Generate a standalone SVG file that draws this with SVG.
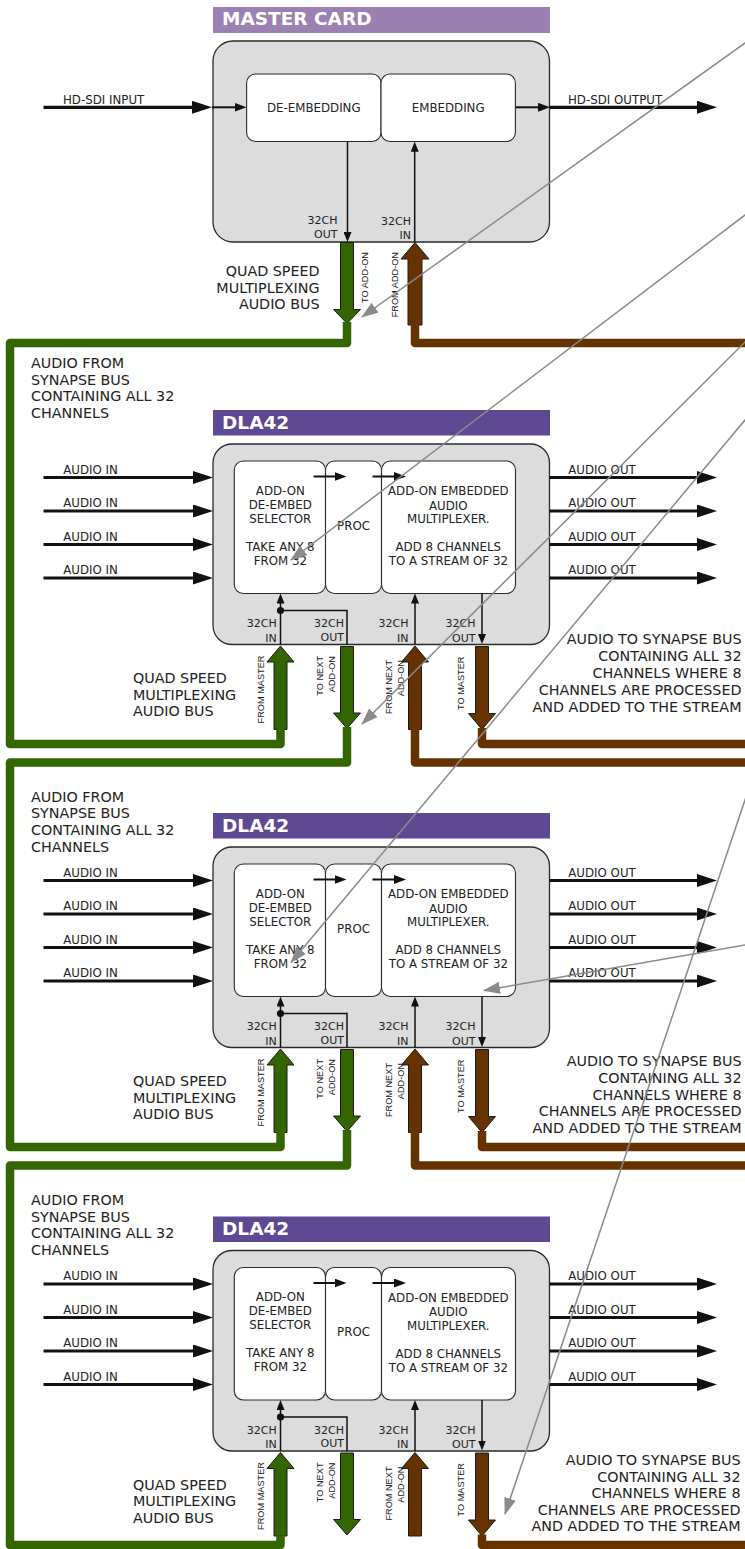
<svg xmlns="http://www.w3.org/2000/svg" width="745" height="1549" viewBox="0 0 745 1549">
<defs>
<style>
.t{font-family:"DejaVu Sans",Verdana,sans-serif;fill:#222222}
.lbl{font-size:11.8px}
.big{font-size:14.3px}
.sm{font-size:11px}
.rot{font-family:"Liberation Sans",Arial,sans-serif;font-size:9.2px;fill:#222222}
.ttl{font-family:"DejaVu Sans",Verdana,sans-serif;font-weight:bold;font-size:18.5px;fill:#ffffff}
.card{fill:#dcdcdc;stroke:#2a2a2a;stroke-width:1.3}
.box{fill:#ffffff;stroke:#2a2a2a;stroke-width:1.1}
.sig{stroke:#111;stroke-width:3.2;fill:none}
.sig2{stroke:#111;stroke-width:2;fill:none}
.thin{stroke:#111;stroke-width:1.5;fill:none}
.gbus{fill:#336600;stroke:#1a1a1a;stroke-width:1}
.bbus{fill:#663300;stroke:#1a1a1a;stroke-width:1}
.gl{stroke:#336600;stroke-width:8.5;fill:none;stroke-linejoin:round}
.bl{stroke:#663300;stroke-width:8.5;fill:none;stroke-linejoin:round}
.note{stroke:#8a8a8a;stroke-width:1.5;fill:none}
.mid{text-anchor:middle}
.end{text-anchor:end}
</style>
<marker id="ahb" markerUnits="userSpaceOnUse" markerWidth="20" markerHeight="13" viewBox="0 0 20 13" refX="12" refY="6.5" orient="auto"><path d="M0,0 L20,6.5 L0,13 z" fill="#111"/></marker>
<marker id="ahm" markerUnits="userSpaceOnUse" markerWidth="12" markerHeight="9" viewBox="0 0 12 9" refX="6" refY="4.5" orient="auto"><path d="M0,0 L12,4.5 L0,9 z" fill="#111"/></marker>
<marker id="ahs" markerUnits="userSpaceOnUse" markerWidth="10" markerHeight="8" viewBox="0 0 10 8" refX="5" refY="4" orient="auto"><path d="M0,0 L10,4 L0,8 z" fill="#111"/></marker>
<marker id="ahg" markerUnits="userSpaceOnUse" markerWidth="17" markerHeight="12" viewBox="0 0 17 12" refX="16" refY="6" orient="auto"><path d="M0,0 L17,6 L0,12 z" fill="#8a8a8a"/></marker>
</defs>

<rect x="0" y="0" width="745" height="1549" fill="#ffffff"/>

<!-- MASTER CARD -->
<g id="master-card">
<rect x="213" y="7" width="337" height="26" fill="#9b80b1"/>
<text class="ttl" x="222" y="25">MASTER CARD</text>
<rect class="card" x="213" y="41" width="336.5" height="201" rx="20"/>
<rect class="box" x="246.6" y="74" width="134.4" height="67.5" rx="9"/>
<rect class="box" x="381" y="74" width="134.4" height="67.5" rx="9"/>
<text class="t lbl mid" x="313.8" y="111.5">DE-EMBEDDING</text>
<text class="t lbl mid" x="448.2" y="111.5">EMBEDDING</text>
<line class="sig" x1="43.5" y1="107.3" x2="204" y2="107.3" marker-end="url(#ahb)"/>
<line class="sig2" x1="212" y1="107.3" x2="240.5" y2="107.3" marker-end="url(#ahm)"/>
<line class="sig2" x1="515.4" y1="107.3" x2="544" y2="107.3" marker-end="url(#ahm)"/>
<line class="sig" x1="550" y1="107.3" x2="709" y2="107.3" marker-end="url(#ahb)"/>
<text class="t lbl" x="63" y="104">HD-SDI INPUT</text>
<text class="t lbl" x="568" y="104">HD-SDI OUTPUT</text>
<line class="thin" x1="347.5" y1="141.5" x2="347.5" y2="237" marker-end="url(#ahs)"/>
<line class="thin" x1="414.7" y1="242" x2="414.7" y2="146.7" marker-end="url(#ahs)"/>
<text class="t sm end" x="337.5" y="224">32CH</text>
<text class="t sm end" x="337.5" y="237.5">OUT</text>
<text class="t sm end" x="411" y="225">32CH</text>
<text class="t sm end" x="411" y="239">IN</text>
<polygon class="gbus" points="340.5,242.5 353.5,242.5 353.5,309.5 360.5,309.5 347,323.5 333.5,309.5 340.5,309.5"/>
<polygon class="bbus" points="415,242.5 429,259 422,259 422,325 408,325 408,259 401,259"/>
<text class="rot end" transform="translate(368,252) rotate(-90)">TO ADD-ON</text>
<text class="rot end" transform="translate(398.3,252) rotate(-90)">FROM ADD-ON</text>
<text class="t big end" x="319.5" y="276">QUAD SPEED</text>
<text class="t big end" x="319.5" y="292.7">MULTIPLEXING</text>
<text class="t big end" x="319.5" y="309.3">AUDIO BUS</text>
</g>

<!-- DLA42 #1 -->
<g id="dla42-1">
<rect x="213" y="410" width="337" height="25.5" fill="#5e4891"/>
<text class="ttl" x="222" y="428.5">DLA42</text>
<rect class="card" x="213" y="444" width="336.5" height="200.5" rx="19"/>
<rect class="box" x="234.3" y="461" width="91.2" height="132.5" rx="9"/>
<rect class="box" x="325.5" y="461" width="56" height="132.5" rx="9"/>
<rect class="box" x="381.5" y="461" width="134" height="132.5" rx="9"/>
<text class="t lbl mid" x="280.3" y="494.5">ADD-ON</text>
<text class="t lbl mid" x="280.3" y="508.7">DE-EMBED</text>
<text class="t lbl mid" x="280.3" y="522.7">SELECTOR</text>
<text class="t lbl mid" x="280.3" y="550.5">TAKE ANY 8</text>
<text class="t lbl mid" x="280.3" y="564.7">FROM 32</text>
<text class="t lbl mid" x="353.5" y="529.5">PROC</text>
<text class="t lbl mid" x="448.3" y="495.3">ADD-ON EMBEDDED</text>
<text class="t lbl mid" x="448.3" y="509.5">AUDIO</text>
<text class="t lbl mid" x="448.3" y="523">MULTIPLEXER.</text>
<text class="t lbl mid" x="448.3" y="551">ADD 8 CHANNELS</text>
<text class="t lbl mid" x="448.3" y="565.3">TO A STREAM OF 32</text>
<line class="sig2" x1="313.5" y1="476.5" x2="340.5" y2="476.5" marker-end="url(#ahm)"/>
<line class="sig2" x1="372.5" y1="476.5" x2="400" y2="476.5" marker-end="url(#ahm)"/>
<line class="sig" x1="43.5" y1="477.5" x2="205" y2="477.5" marker-end="url(#ahb)"/>
<line class="sig" x1="43.5" y1="511" x2="205" y2="511" marker-end="url(#ahb)"/>
<line class="sig" x1="43.5" y1="544.5" x2="205" y2="544.5" marker-end="url(#ahb)"/>
<line class="sig" x1="43.5" y1="578" x2="205" y2="578" marker-end="url(#ahb)"/>
<line class="sig" x1="549.5" y1="477.5" x2="709" y2="477.5" marker-end="url(#ahb)"/>
<line class="sig" x1="549.5" y1="511" x2="709" y2="511" marker-end="url(#ahb)"/>
<line class="sig" x1="549.5" y1="544.5" x2="709" y2="544.5" marker-end="url(#ahb)"/>
<line class="sig" x1="549.5" y1="578" x2="709" y2="578" marker-end="url(#ahb)"/>
<text class="t lbl" x="63.3" y="473.5">AUDIO IN</text>
<text class="t lbl" x="63.3" y="507">AUDIO IN</text>
<text class="t lbl" x="63.3" y="540.5">AUDIO IN</text>
<text class="t lbl" x="63.3" y="574">AUDIO IN</text>
<text class="t lbl" x="568.3" y="473.5">AUDIO OUT</text>
<text class="t lbl" x="568.3" y="507">AUDIO OUT</text>
<text class="t lbl" x="568.3" y="540.5">AUDIO OUT</text>
<text class="t lbl" x="568.3" y="574">AUDIO OUT</text>
<line class="thin" x1="280.5" y1="644.5" x2="280.5" y2="598.5" marker-end="url(#ahs)"/>
<path class="thin" d="M280.5,610.5 H347 V644.5"/>
<circle cx="280.5" cy="610.5" r="3.6" fill="#111"/>
<line class="thin" x1="415" y1="644.5" x2="415" y2="598.5" marker-end="url(#ahs)"/>
<line class="thin" x1="482" y1="593.5" x2="482" y2="639" marker-end="url(#ahs)"/>
<text class="t sm end" x="276.7" y="627">32CH</text>
<text class="t sm end" x="276.7" y="641.5">IN</text>
<text class="t sm end" x="344" y="627">32CH</text>
<text class="t sm end" x="344" y="640.5">OUT</text>
<text class="t sm end" x="408.5" y="627">32CH</text>
<text class="t sm end" x="408.5" y="641.5">IN</text>
<text class="t sm end" x="475.5" y="627.3">32CH</text>
<text class="t sm end" x="475.5" y="641.5">OUT</text>
<polygon class="gbus" points="280.5,646 294,662 287,662 287,729.5 274,729.5 274,662 267,662"/>
<polygon class="gbus" points="340.5,646.5 353.5,646.5 353.5,713 360.5,713 347,728.5 333.5,713 340.5,713"/>
<polygon class="bbus" points="415,646 428.5,662 421.5,662 421.5,729.5 408.5,729.5 408.5,662 401.5,662"/>
<polygon class="bbus" points="475.5,646.5 488.5,646.5 488.5,713.5 495.5,713.5 482,729.5 468.5,713.5 475.5,713.5"/>
<text class="rot end" transform="translate(263.5,655.5) rotate(-90)">FROM MASTER</text>
<text class="rot end" transform="translate(322.5,656) rotate(-90)">TO NEXT</text>
<text class="rot end" transform="translate(334.5,656) rotate(-90)">ADD-ON</text>
<text class="rot end" transform="translate(391.5,660) rotate(-90)">FROM NEXT</text>
<text class="rot end" transform="translate(403.5,660) rotate(-90)">ADD-ON</text>
<text class="rot end" transform="translate(463.5,656.5) rotate(-90)">TO MASTER</text>
<text class="t big" x="133" y="683">QUAD SPEED</text>
<text class="t big" x="133" y="699.7">MULTIPLEXING</text>
<text class="t big" x="133" y="716.3">AUDIO BUS</text>
</g>

<!-- DLA42 #2 -->
<g id="dla42-2" transform="translate(0,403)">
<rect x="213" y="410" width="337" height="25.5" fill="#5e4891"/>
<text class="ttl" x="222" y="428.5">DLA42</text>
<rect class="card" x="213" y="444" width="336.5" height="200.5" rx="19"/>
<rect class="box" x="234.3" y="461" width="91.2" height="132.5" rx="9"/>
<rect class="box" x="325.5" y="461" width="56" height="132.5" rx="9"/>
<rect class="box" x="381.5" y="461" width="134" height="132.5" rx="9"/>
<text class="t lbl mid" x="280.3" y="494.5">ADD-ON</text>
<text class="t lbl mid" x="280.3" y="508.7">DE-EMBED</text>
<text class="t lbl mid" x="280.3" y="522.7">SELECTOR</text>
<text class="t lbl mid" x="280.3" y="550.5">TAKE ANY 8</text>
<text class="t lbl mid" x="280.3" y="564.7">FROM 32</text>
<text class="t lbl mid" x="353.5" y="529.5">PROC</text>
<text class="t lbl mid" x="448.3" y="495.3">ADD-ON EMBEDDED</text>
<text class="t lbl mid" x="448.3" y="509.5">AUDIO</text>
<text class="t lbl mid" x="448.3" y="523">MULTIPLEXER.</text>
<text class="t lbl mid" x="448.3" y="551">ADD 8 CHANNELS</text>
<text class="t lbl mid" x="448.3" y="565.3">TO A STREAM OF 32</text>
<line class="sig2" x1="313.5" y1="476.5" x2="340.5" y2="476.5" marker-end="url(#ahm)"/>
<line class="sig2" x1="372.5" y1="476.5" x2="400" y2="476.5" marker-end="url(#ahm)"/>
<line class="sig" x1="43.5" y1="477.5" x2="205" y2="477.5" marker-end="url(#ahb)"/>
<line class="sig" x1="43.5" y1="511" x2="205" y2="511" marker-end="url(#ahb)"/>
<line class="sig" x1="43.5" y1="544.5" x2="205" y2="544.5" marker-end="url(#ahb)"/>
<line class="sig" x1="43.5" y1="578" x2="205" y2="578" marker-end="url(#ahb)"/>
<line class="sig" x1="549.5" y1="477.5" x2="709" y2="477.5" marker-end="url(#ahb)"/>
<line class="sig" x1="549.5" y1="511" x2="709" y2="511" marker-end="url(#ahb)"/>
<line class="sig" x1="549.5" y1="544.5" x2="709" y2="544.5" marker-end="url(#ahb)"/>
<line class="sig" x1="549.5" y1="578" x2="709" y2="578" marker-end="url(#ahb)"/>
<text class="t lbl" x="63.3" y="473.5">AUDIO IN</text>
<text class="t lbl" x="63.3" y="507">AUDIO IN</text>
<text class="t lbl" x="63.3" y="540.5">AUDIO IN</text>
<text class="t lbl" x="63.3" y="574">AUDIO IN</text>
<text class="t lbl" x="568.3" y="473.5">AUDIO OUT</text>
<text class="t lbl" x="568.3" y="507">AUDIO OUT</text>
<text class="t lbl" x="568.3" y="540.5">AUDIO OUT</text>
<text class="t lbl" x="568.3" y="574">AUDIO OUT</text>
<line class="thin" x1="280.5" y1="644.5" x2="280.5" y2="598.5" marker-end="url(#ahs)"/>
<path class="thin" d="M280.5,610.5 H347 V644.5"/>
<circle cx="280.5" cy="610.5" r="3.6" fill="#111"/>
<line class="thin" x1="415" y1="644.5" x2="415" y2="598.5" marker-end="url(#ahs)"/>
<line class="thin" x1="482" y1="593.5" x2="482" y2="639" marker-end="url(#ahs)"/>
<text class="t sm end" x="276.7" y="627">32CH</text>
<text class="t sm end" x="276.7" y="641.5">IN</text>
<text class="t sm end" x="344" y="627">32CH</text>
<text class="t sm end" x="344" y="640.5">OUT</text>
<text class="t sm end" x="408.5" y="627">32CH</text>
<text class="t sm end" x="408.5" y="641.5">IN</text>
<text class="t sm end" x="475.5" y="627.3">32CH</text>
<text class="t sm end" x="475.5" y="641.5">OUT</text>
<polygon class="gbus" points="280.5,646 294,662 287,662 287,729.5 274,729.5 274,662 267,662"/>
<polygon class="gbus" points="340.5,646.5 353.5,646.5 353.5,713 360.5,713 347,728.5 333.5,713 340.5,713"/>
<polygon class="bbus" points="415,646 428.5,662 421.5,662 421.5,729.5 408.5,729.5 408.5,662 401.5,662"/>
<polygon class="bbus" points="475.5,646.5 488.5,646.5 488.5,713.5 495.5,713.5 482,729.5 468.5,713.5 475.5,713.5"/>
<text class="rot end" transform="translate(263.5,655.5) rotate(-90)">FROM MASTER</text>
<text class="rot end" transform="translate(322.5,656) rotate(-90)">TO NEXT</text>
<text class="rot end" transform="translate(334.5,656) rotate(-90)">ADD-ON</text>
<text class="rot end" transform="translate(391.5,660) rotate(-90)">FROM NEXT</text>
<text class="rot end" transform="translate(403.5,660) rotate(-90)">ADD-ON</text>
<text class="rot end" transform="translate(463.5,656.5) rotate(-90)">TO MASTER</text>
<text class="t big" x="133" y="683">QUAD SPEED</text>
<text class="t big" x="133" y="699.7">MULTIPLEXING</text>
<text class="t big" x="133" y="716.3">AUDIO BUS</text>
</g>

<!-- DLA42 #3 -->
<g id="dla42-3" transform="translate(0,806.5)">
<rect x="213" y="410" width="337" height="25.5" fill="#5e4891"/>
<text class="ttl" x="222" y="428.5">DLA42</text>
<rect class="card" x="213" y="444" width="336.5" height="200.5" rx="19"/>
<rect class="box" x="234.3" y="461" width="91.2" height="132.5" rx="9"/>
<rect class="box" x="325.5" y="461" width="56" height="132.5" rx="9"/>
<rect class="box" x="381.5" y="461" width="134" height="132.5" rx="9"/>
<text class="t lbl mid" x="280.3" y="494.5">ADD-ON</text>
<text class="t lbl mid" x="280.3" y="508.7">DE-EMBED</text>
<text class="t lbl mid" x="280.3" y="522.7">SELECTOR</text>
<text class="t lbl mid" x="280.3" y="550.5">TAKE ANY 8</text>
<text class="t lbl mid" x="280.3" y="564.7">FROM 32</text>
<text class="t lbl mid" x="353.5" y="529.5">PROC</text>
<text class="t lbl mid" x="448.3" y="495.3">ADD-ON EMBEDDED</text>
<text class="t lbl mid" x="448.3" y="509.5">AUDIO</text>
<text class="t lbl mid" x="448.3" y="523">MULTIPLEXER.</text>
<text class="t lbl mid" x="448.3" y="551">ADD 8 CHANNELS</text>
<text class="t lbl mid" x="448.3" y="565.3">TO A STREAM OF 32</text>
<line class="sig2" x1="313.5" y1="476.5" x2="340.5" y2="476.5" marker-end="url(#ahm)"/>
<line class="sig2" x1="372.5" y1="476.5" x2="400" y2="476.5" marker-end="url(#ahm)"/>
<line class="sig" x1="43.5" y1="477.5" x2="205" y2="477.5" marker-end="url(#ahb)"/>
<line class="sig" x1="43.5" y1="511" x2="205" y2="511" marker-end="url(#ahb)"/>
<line class="sig" x1="43.5" y1="544.5" x2="205" y2="544.5" marker-end="url(#ahb)"/>
<line class="sig" x1="43.5" y1="578" x2="205" y2="578" marker-end="url(#ahb)"/>
<line class="sig" x1="549.5" y1="477.5" x2="709" y2="477.5" marker-end="url(#ahb)"/>
<line class="sig" x1="549.5" y1="511" x2="709" y2="511" marker-end="url(#ahb)"/>
<line class="sig" x1="549.5" y1="544.5" x2="709" y2="544.5" marker-end="url(#ahb)"/>
<line class="sig" x1="549.5" y1="578" x2="709" y2="578" marker-end="url(#ahb)"/>
<text class="t lbl" x="63.3" y="473.5">AUDIO IN</text>
<text class="t lbl" x="63.3" y="507">AUDIO IN</text>
<text class="t lbl" x="63.3" y="540.5">AUDIO IN</text>
<text class="t lbl" x="63.3" y="574">AUDIO IN</text>
<text class="t lbl" x="568.3" y="473.5">AUDIO OUT</text>
<text class="t lbl" x="568.3" y="507">AUDIO OUT</text>
<text class="t lbl" x="568.3" y="540.5">AUDIO OUT</text>
<text class="t lbl" x="568.3" y="574">AUDIO OUT</text>
<line class="thin" x1="280.5" y1="644.5" x2="280.5" y2="598.5" marker-end="url(#ahs)"/>
<path class="thin" d="M280.5,610.5 H347 V644.5"/>
<circle cx="280.5" cy="610.5" r="3.6" fill="#111"/>
<line class="thin" x1="415" y1="644.5" x2="415" y2="598.5" marker-end="url(#ahs)"/>
<line class="thin" x1="482" y1="593.5" x2="482" y2="639" marker-end="url(#ahs)"/>
<text class="t sm end" x="276.7" y="627">32CH</text>
<text class="t sm end" x="276.7" y="641.5">IN</text>
<text class="t sm end" x="344" y="627">32CH</text>
<text class="t sm end" x="344" y="640.5">OUT</text>
<text class="t sm end" x="408.5" y="627">32CH</text>
<text class="t sm end" x="408.5" y="641.5">IN</text>
<text class="t sm end" x="475.5" y="627.3">32CH</text>
<text class="t sm end" x="475.5" y="641.5">OUT</text>
<polygon class="gbus" points="280.5,646 294,662 287,662 287,729.5 274,729.5 274,662 267,662"/>
<polygon class="gbus" points="340.5,646.5 353.5,646.5 353.5,713 360.5,713 347,728.5 333.5,713 340.5,713"/>
<polygon class="bbus" points="415,646 428.5,662 421.5,662 421.5,729.5 408.5,729.5 408.5,662 401.5,662"/>
<polygon class="bbus" points="475.5,646.5 488.5,646.5 488.5,713.5 495.5,713.5 482,729.5 468.5,713.5 475.5,713.5"/>
<text class="rot end" transform="translate(263.5,655.5) rotate(-90)">FROM MASTER</text>
<text class="rot end" transform="translate(322.5,656) rotate(-90)">TO NEXT</text>
<text class="rot end" transform="translate(334.5,656) rotate(-90)">ADD-ON</text>
<text class="rot end" transform="translate(391.5,660) rotate(-90)">FROM NEXT</text>
<text class="rot end" transform="translate(403.5,660) rotate(-90)">ADD-ON</text>
<text class="rot end" transform="translate(463.5,656.5) rotate(-90)">TO MASTER</text>
<text class="t big" x="133" y="683">QUAD SPEED</text>
<text class="t big" x="133" y="699.7">MULTIPLEXING</text>
<text class="t big" x="133" y="716.3">AUDIO BUS</text>
</g>

<!-- bus annotations -->
<g id="bus-notes">
<text class="t big" x="31" y="368">AUDIO FROM</text>
<text class="t big" x="31" y="384.7">SYNAPSE BUS</text>
<text class="t big" x="31" y="401.4">CONTAINING ALL 32</text>
<text class="t big" x="31" y="418.1">CHANNELS</text>
<text class="t big" x="31" y="801.8">AUDIO FROM</text>
<text class="t big" x="31" y="818.4">SYNAPSE BUS</text>
<text class="t big" x="31" y="835">CONTAINING ALL 32</text>
<text class="t big" x="31" y="851.6">CHANNELS</text>
<text class="t big" x="31" y="1205">AUDIO FROM</text>
<text class="t big" x="31" y="1221.6">SYNAPSE BUS</text>
<text class="t big" x="31" y="1238.2">CONTAINING ALL 32</text>
<text class="t big" x="31" y="1254.8">CHANNELS</text>
<text class="t big end" x="741.5" y="644">AUDIO TO SYNAPSE BUS</text>
<text class="t big end" x="741.5" y="660.9">CONTAINING ALL 32</text>
<text class="t big end" x="741.5" y="677.8">CHANNELS WHERE 8</text>
<text class="t big end" x="741.5" y="694.7">CHANNELS ARE PROCESSED</text>
<text class="t big end" x="741.5" y="711.6">AND ADDED TO THE STREAM</text>
<text class="t big end" x="741.5" y="1066">AUDIO TO SYNAPSE BUS</text>
<text class="t big end" x="741.5" y="1082.8">CONTAINING ALL 32</text>
<text class="t big end" x="741.5" y="1099.6">CHANNELS WHERE 8</text>
<text class="t big end" x="741.5" y="1116.4">CHANNELS ARE PROCESSED</text>
<text class="t big end" x="741.5" y="1133.2">AND ADDED TO THE STREAM</text>
<text class="t big end" x="740.5" y="1465">AUDIO TO SYNAPSE BUS</text>
<text class="t big end" x="740.5" y="1481.6">CONTAINING ALL 32</text>
<text class="t big end" x="740.5" y="1498.2">CHANNELS WHERE 8</text>
<text class="t big end" x="740.5" y="1514.8">CHANNELS ARE PROCESSED</text>
<text class="t big end" x="740.5" y="1531.4">AND ADDED TO THE STREAM</text>
</g>

<g id="connectors">
<path class="gl" d="M347,322 V343 H10 V744 H280.5 V729"/>
<path class="bl" d="M415,324 V343 H750"/>
<path class="gl" d="M347,727 V762.5 H10 V1147 H280.5 V1132"/>
<path class="bl" d="M482,728 V744 H750"/>
<path class="bl" d="M415,729 V762.5 H750"/>
<path class="gl" d="M347,1130 V1165.5 H10 V1545 H280.5 V1535.5"/>
<path class="bl" d="M482,1131 V1147 H750"/>
<path class="bl" d="M415,1132 V1165.5 H750"/>
<path class="bl" d="M482,1534.5 V1545 H750"/>
<path class="note" d="M747,41.6 L362,317" marker-end="url(#ahg)"/>
<path class="note" d="M747,213.5 L291,560" marker-end="url(#ahg)"/>
<path class="note" d="M747,340 L362,724" marker-end="url(#ahg)"/>
<path class="note" d="M747,417.6 L291,962.5" marker-end="url(#ahg)"/>
<path class="note" d="M746,797 L505,1514" marker-end="url(#ahg)"/>
<path class="note" d="M747,944.6 L484,990.5" marker-end="url(#ahg)"/>
</g>
</svg>
